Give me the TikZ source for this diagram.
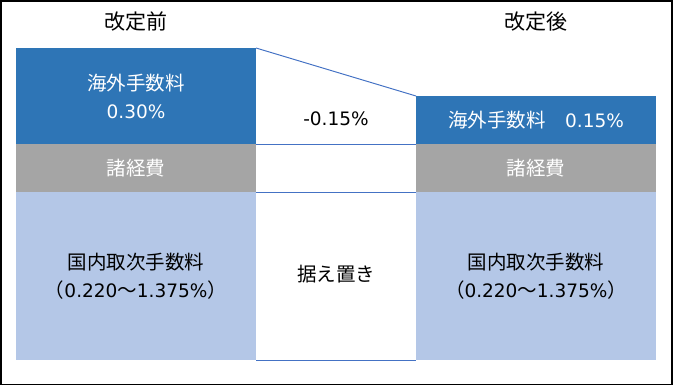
\documentclass[tikz,border=0pt]{standalone}
\usepackage{fontspec}
\setmainfont{Noto Sans CJK JP}
\newfontfamily\lat{DejaVu Sans}
\definecolor{feeblue}{HTML}{2E75B6}
\definecolor{feegray}{HTML}{A5A5A5}
\definecolor{feelight}{HTML}{B4C7E7}
\definecolor{lineblue}{HTML}{4472C4}
\begin{document}
\begin{tikzpicture}[x=1pt,y=-1pt,
  box/.style={draw=none,inner sep=0pt,outer sep=0pt,align=center,
    font=\fontsize{19.5}{28}\selectfont},
  bluebox/.style={box,fill=feeblue,text=white},
  graybox/.style={box,fill=feegray,text=white},
  lightbox/.style={box,fill=feelight,text=black},
  lbl/.style={inner sep=0pt,align=center,font=\fontsize{19.5}{28}\selectfont},
  ttl/.style={inner sep=0pt,align=center,font=\fontsize{21}{28}\selectfont},
  conn/.style={draw=lineblue,line width=1pt}]
\useasboundingbox (0,0) rectangle (674,386);
\draw[line width=1.5pt] (0.75,0.75) rectangle (672,384.5);
% titles
\node[ttl] (tl) at (136,22) {改定前};
\node[ttl] (tr) at (536,22) {改定後};
% left column
\node[bluebox,minimum width=240pt,minimum height=96pt] (lb) at (136,96) {海外手数料\\{\lat\fontsize{18.5}{28}\selectfont 0.30\%}};
\node[graybox,minimum width=240pt,minimum height=48pt] (lg) at (136,168) {諸経費};
\node[lightbox,minimum width=240pt,minimum height=168pt] (ll) at (136,276) {国内取次手数料\\（{\lat\fontsize{18.5}{28}\selectfont 0.220}～{\lat\fontsize{18.5}{28}\selectfont 1.375\%}）};
% right column
\node[bluebox,minimum width=240pt,minimum height=48pt] (rb) at (536,120) {海外手数料　{\lat\fontsize{18.5}{28}\selectfont 0.15\%}};
\node[graybox,minimum width=240pt,minimum height=48pt] (rg) at (536,168) {諸経費};
\node[lightbox,minimum width=240pt,minimum height=168pt] (rl) at (536,276) {国内取次手数料\\（{\lat\fontsize{18.5}{28}\selectfont 0.220}～{\lat\fontsize{18.5}{28}\selectfont 1.375\%}）};
% middle
\draw[conn] (lb.north east) -- (rb.north west);
\draw[conn] (lb.south east) -- (rb.south west);
\draw[conn] (lg.south east) -- (rg.south west);
\draw[conn] (ll.south east) -- (rl.south west);
\node[lbl] (diff) at (336,119) {{\lat\fontsize{18.5}{28}\selectfont -0.15\%}};
\node[lbl] (keep) at (336,274) {据え置き};
\end{tikzpicture}
\end{document}
